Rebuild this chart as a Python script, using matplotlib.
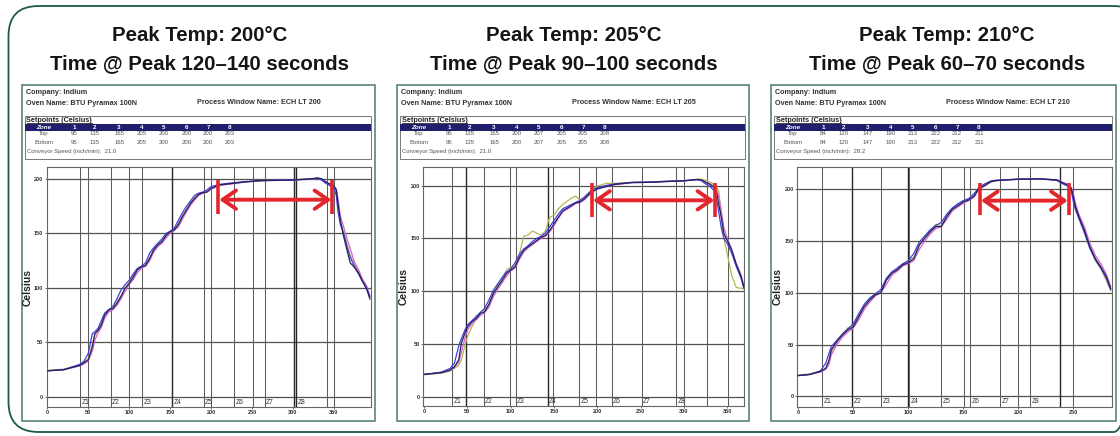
import matplotlib
matplotlib.use("Agg")
import matplotlib.pyplot as plt
from matplotlib import font_manager
from matplotlib.patches import FancyBboxPatch, Rectangle

plt.rcParams["font.family"] = ["Liberation Sans", "DejaVu Sans"]
installed = {f.name for f in font_manager.fontManager.ttflist}
if "Liberation Sans Narrow" in installed:
    TITLE_FONT, TITLE_SIZE = "Liberation Sans Narrow", 17.6
else:
    TITLE_FONT, TITLE_SIZE = "Liberation Sans", 14.7

W, H = 1120, 436

# ---- data ----
title_temp = ["Peak Temp: 200°C", "Peak Temp: 205°C", "Peak Temp: 210°C"]
title_time = ["Time @ Peak 120–140 seconds", "Time @ Peak 90–100 seconds", "Time @ Peak 60–70 seconds"]
window_names = ["ECH LT 200", "ECH LT 205", "ECH LT 210"]
zones = ["1", "2", "3", "4", "5", "6", "7", "8"]
setpoints = [
    [95, 135, 165, 205, 200, 200, 200, 203],
    [95, 135, 165, 200, 207, 205, 205, 208],
    [84, 120, 147, 190, 213, 222, 212, 211],
]
speeds = ["21.0", "21.0", "28.2"]

# panel 1
t1 = [0, 20, 40, 45, 50, 55, 58, 62, 66, 70, 75, 80, 85, 90, 95, 100, 105, 110, 115, 120,
      125, 130, 135, 140, 145, 150, 155, 160, 165, 170, 175, 180, 185, 190, 195, 200, 210, 220, 240, 260,
      280, 300, 320, 330, 335, 340, 345, 350, 353, 355, 358, 362, 366, 370, 375, 380, 385, 390, 394]
navy1 = [24, 25, 29, 31.5, 34, 46, 58, 61, 66, 75, 80, 81, 86, 92, 100, 104, 110, 116.5, 119.6, 120.5,
         127, 135, 139.5, 142.5, 148, 151.7, 153, 158, 165.5, 171.5, 177.7, 182, 186, 187.5, 188, 191.4, 194.5, 195.4, 197.2, 198.5,
         198.8, 199, 200, 201, 200.3, 197.5, 195.4, 193.6, 190, 178, 162, 147, 135, 123, 119, 114, 106, 99, 90]
blue1 = [24, 25, 30, 33, 40, 58, 60, 63, 70, 77, 80, 83, 90, 98, 103, 107, 113, 118, 120, 123,
         132, 137, 141, 145, 150, 152, 155, 162, 169, 175, 180, 185, 187, 188, 190, 193, 195, 196, 197.5, 198.5,
         199, 199.3, 200, 200.5, 199, 196, 194, 192, 185, 170, 158, 150, 138, 128, 120, 113, 106, 100, 92]
magenta1 = [24, 25, 28.5, 30.5, 33, 42, 52, 59, 64, 72, 78, 80, 84, 90, 97, 103, 108, 114, 118, 120,
            125, 133, 138, 141, 146, 150, 153, 156, 163, 170, 176, 181, 185, 187, 188, 190.5, 194, 195, 197, 198.3,
            198.7, 199, 199.8, 200.5, 200, 197, 195, 193, 191, 182, 166, 156, 145, 136, 124, 117, 108, 102, 93]
olive1 = [24.5, 25.5, 29.5, 32, 35, 48, 57, 62, 67, 74, 79, 81, 87, 93, 99, 105, 111, 117, 119, 121,
          128, 135, 140, 143, 148, 151, 154, 159, 166, 172, 178, 183, 186.5, 187.5, 188.5, 191.5, 194.5, 195.5, 197.3, 198.5,
          198.9, 199.1, 200, 200.8, 200, 197.3, 195.2, 193.4, 189, 175, 160, 151, 140, 130, 122, 115, 108, 101, 91]

# panel 2
t2 = [0, 20, 30, 35, 40, 43, 47, 50, 55, 60, 65, 70, 75, 80, 85, 90, 95, 100, 105, 110,
      115, 120, 125, 130, 135, 140, 145, 150, 155, 160, 170, 175, 180, 185, 190, 195, 200, 210, 220, 240,
      260, 280, 300, 315, 320, 325, 330, 335, 338, 340, 343, 346, 350, 355, 360, 363, 366, 369]
navy2 = [21.4, 23, 25.5, 28.6, 35, 50.6, 60, 66, 71, 74, 79, 80.5, 88, 98, 104, 110, 116.7, 120, 123, 132,
         138.7, 142, 145, 148, 151, 152.8, 157.5, 164, 170, 176, 181, 183.6, 184.3, 187.4, 191.5, 194.7, 197, 199, 201, 202.8,
         203, 203.8, 204.4, 205.7, 205.3, 203, 201, 197.8, 192, 182.7, 170, 154.4, 148, 138.7, 126, 120, 113.5, 104]
blue2 = [21.4, 23.5, 27, 32, 48, 55, 63, 68, 72, 76, 80, 84, 92, 101, 107, 113, 118, 121, 127, 135,
         140, 143, 147, 150, 152, 155, 161, 167, 173, 178, 182, 184, 186, 189, 193, 196, 198, 200, 201.5, 203,
         203.3, 204, 204.6, 205.5, 204.5, 201.5, 199, 195, 185, 175, 160, 150, 145, 136, 124, 118, 112, 103]
magenta2 = [21.4, 23, 25, 28, 33, 42, 55, 63, 69, 73, 77, 80, 85, 95, 102, 108, 114, 119, 122, 130,
            137, 141, 144, 147, 150, 152, 156, 162, 169, 175, 180, 183, 184, 186.5, 190.5, 194, 196.5, 198.8, 200.8, 202.6,
            203, 203.7, 204.3, 205.6, 205.4, 203.5, 201.5, 199, 195, 190, 176, 160, 150, 140, 127, 121, 115, 105]
olive2 = [21, 22.5, 24.5, 27, 30, 35, 48, 57, 66, 74, 80, 82, 87, 97, 106, 112, 120, 123, 124, 135,
          152, 153, 157, 155, 153, 157, 170, 172, 178, 182, 188, 190, 186, 189, 193, 197, 199.5, 202, 202, 203,
          203.3, 204, 204.6, 206, 206, 205, 203, 201, 198, 195, 173, 150, 135, 115, 104, 103, 103, 102]

# panel 3
t3 = [0, 10, 20, 25, 28, 30, 35, 40, 45, 50, 55, 60, 65, 70, 75, 80, 85, 90, 95, 100,
      105, 110, 115, 120, 125, 130, 135, 140, 145, 150, 155, 160, 163, 165, 170, 175, 180, 200, 220, 235,
      240, 245, 248, 250, 252, 255, 260, 265, 270, 275, 280, 284]
navy3 = [20, 21, 23.8, 27, 35, 44.8, 52.8, 59, 64, 67, 77, 86.6, 93, 98, 100, 112, 119, 122, 127, 129,
         133, 146, 152.7, 159, 164, 164, 173.6, 180.7, 184, 187.8, 189.7, 193.6, 199, 201, 204, 207.4, 208.4, 209.7, 210, 209,
         206.4, 204, 201, 193, 183, 173.6, 160.7, 144.6, 133, 125, 115.6, 104]
blue3 = [20, 21, 24.5, 32, 42, 48, 54, 60, 65, 70, 80, 89, 95, 99, 103, 114, 120, 124, 128, 131,
         138, 149, 155, 161, 165, 168, 176, 182, 186, 189, 191, 196, 200, 202.5, 205.5, 208, 208.8, 209.8, 210, 208.5,
         205.5, 203, 199, 188, 180, 172, 158, 143, 132, 124, 114, 103]
magenta3 = [20, 21, 23.5, 26, 31, 40, 50, 57, 62, 66, 74, 84, 91, 97, 100, 108, 117, 121, 126, 128,
            131, 142, 150, 157, 162, 164, 171, 179, 183, 186.5, 189, 192.5, 198, 200.5, 203.5, 207, 208.2, 209.6, 210, 209.2,
            207, 204.5, 202, 196, 186, 176, 164, 148, 136, 128, 118, 106]
olive3 = [20.5, 21.5, 24, 27.5, 33, 43, 53, 60, 66, 68, 78, 87, 94, 99, 101, 113, 120, 123, 128, 131,
          134, 147, 154, 160, 166, 165, 174, 181, 185, 189, 191, 195, 200, 202, 204.5, 207.5, 208.5, 209.7, 210, 209,
          206, 203.5, 200.5, 191, 181, 172, 159, 143, 131, 123, 112, 102]

times = [t1, t2, t3]
curves = [[olive1, magenta1, blue1, navy1], [olive2, magenta2, blue2, navy2], [olive3, magenta3, blue3, navy3]]
curve_colors = ["#b5b554", "#d660cf", "#4040e0", "#22225a"]

zone_lines = [
    [40, 49.3, 77.5, 99.9, 116.2, 151.7, 152.9, 190.9, 200.2, 228.4, 251.2, 265.9, 301.8, 303.8, 341.8, 350.7],
    [32.7, 48.5, 68.8, 98.8, 105.8, 142.7, 149.2, 179.2, 198.5, 216.5, 251.2, 290.8, 300, 326.9, 351.2],
    [21.8, 48.5, 75.2, 99.4, 100.9, 129.4, 150.3, 156, 183.3, 200, 210.6, 237.6, 250],
]
dark_lines = [[152.9, 301.8, 303.8], [48.5, 142.7], [48.5, 99.4, 237.6]]
zone_starts = [
    [40, 77.5, 116.2, 152.9, 190.9, 228.4, 265.9, 303.8],
    [32.7, 68.8, 105.8, 142.7, 179.2, 216.5, 251.2, 290.8],
    [21.8, 48.5, 75.2, 100.9, 129.4, 156, 183.3, 210.6],
]
x_ticks = [[0, 50, 100, 150, 200, 250, 300, 350], [0, 50, 100, 150, 200, 250, 300, 350], [0, 50, 100, 150, 200, 250]]
y_ticks = [0, 50, 100, 150, 200]
x_lims = [(-1, 395), (-1.2, 369.2), (-1.2, 284.7)]
y_lims = [(-9.2, 211), (-8.5, 217.5), (-9.9, 221.5)]

# time above liquidus window marked with the red arrow
win_start = [209, 194, 165]
win_end = [348, 336, 246]
win_y = [181, 186, 189]
bar_lo = [168, 170, 175]
bar_hi = [199, 202, 206]

# ---- layout (pixels) ----
panel_l = [22, 397, 771]
panel_r = [375, 749, 1116]
ax_l = [46.5, 423, 797]
ax_r = [370.7, 744, 1111.5]
ax_b = [407, 406, 406.5]
ax_t = 167
title_x = [200, 574, 947]
col_x = [52, 73, 97, 120, 142, 165, 186, 208]

FRAME = "#1f5c44"
BORDER = "#4b7a6b"
NAVY = "#1f1f6e"
RED = "#e3262b"
GRID = "#505050"

fig = plt.figure(figsize=(W / 100, H / 100), dpi=100)
bg = fig.add_axes([0, 0, 1, 1])
bg.set_xlim(0, W)
bg.set_ylim(H, 0)
bg.axis("off")

bg.add_patch(FancyBboxPatch((8.5, 6), 1135, 426, boxstyle="round,pad=0,rounding_size=30",
                            fill=False, ec=FRAME, lw=1.3))

for i in range(3):
    pl, pr = panel_l[i], panel_r[i]
    bg.text(title_x[i], 41, title_temp[i], ha="center", va="baseline", fontsize=TITLE_SIZE,
            fontweight="bold", family=TITLE_FONT, color="#151515")
    bg.text(title_x[i], 69, title_time[i], ha="center", va="baseline", fontsize=TITLE_SIZE,
            fontweight="bold", family=TITLE_FONT, color="#151515")

    bg.add_patch(Rectangle((pl, 85), pr - pl, 336, fill=False, ec=BORDER, lw=1.1))
    bg.text(pl + 4, 93.5, "Company: Indium", fontsize=5.2, fontweight="bold", color="#333333", va="baseline")
    bg.text(pl + 4, 105, "Oven Name: BTU Pyramax 100N", fontsize=5.2, fontweight="bold", color="#333333", va="baseline")
    bg.text(pl + 175, 104, "Process Window Name: " + window_names[i], fontsize=5.2, fontweight="bold",
            color="#333333", va="baseline")

    # setpoints table
    sl, sr = pl + 3, pr - 4
    bg.add_patch(Rectangle((sl, 115.5), sr - sl, 43, fill=False, ec="#777777", lw=0.7))
    bg.text(sl + 1.5, 121.5, "Setpoints (Celsius)", fontsize=5.2, fontweight="bold", color="#222222", va="baseline")
    bg.plot([sl + 1.5, sl + 67], [122.6, 122.6], color="#222222", lw=0.6)
    bg.add_patch(Rectangle((sl, 124), sr - sl, 7, fc=NAVY, ec="none"))
    bg.text(pl + 22, 127.6, "Zone", fontsize=4.5, fontweight="bold", style="italic", color="white",
            ha="center", va="center")
    for j, z in enumerate(zones):
        bg.text(pl + col_x[j], 127.6, z, fontsize=4.5, fontweight="bold", color="white", ha="center", va="center")
        bg.text(pl + col_x[j], 133.5, str(setpoints[i][j]), fontsize=4.3, color="#555555", ha="center", va="center")
        bg.text(pl + col_x[j], 142.5, str(setpoints[i][j]), fontsize=4.3, color="#555555", ha="center", va="center")
    bg.text(pl + 22, 133.5, "Top", fontsize=4.3, color="#555555", ha="center", va="center")
    bg.text(pl + 22, 142.5, "Bottom", fontsize=4.3, color="#555555", ha="center", va="center")
    bg.text(sl + 2, 151.5, "Conveyor Speed (inch/min):  " + speeds[i], fontsize=4.3, color="#555555", va="center")

    # profile plot
    ax = fig.add_axes([ax_l[i] / W, 1 - ax_b[i] / H, (ax_r[i] - ax_l[i]) / W, (ax_b[i] - ax_t) / H])
    ax.set_xlim(*x_lims[i])
    ax.set_ylim(*y_lims[i])
    for yv in y_ticks:
        ax.axhline(yv, color=GRID, lw=0.9, zorder=1)
    for xv in zone_lines[i]:
        dark = xv in dark_lines[i]
        ax.axvline(xv, color="#262626" if dark else "#5c5c5c", lw=1.0 if dark else 0.75, zorder=1)
    for k, zs in enumerate(zone_starts[i]):
        ax.text(zs + 1.5, y_lims[i][0] * 0.55, "Z%d" % (k + 1), fontsize=4.8, color="#333333",
                ha="left", va="center", zorder=2)

    for ys, c in zip(curves[i], curve_colors):
        ax.plot(times[i], ys, color=c, lw=0.9, zorder=3)

    ax.plot([win_start[i], win_start[i]], [bar_lo[i], bar_hi[i]], color=RED, lw=2.6, zorder=5,
            solid_capstyle="butt")
    ax.plot([win_end[i], win_end[i]], [bar_lo[i], bar_hi[i]], color=RED, lw=2.6, zorder=5,
            solid_capstyle="butt")
    ax.annotate("", xy=(win_end[i] - 1, win_y[i]), xytext=(win_start[i] + 1, win_y[i]),
                arrowprops=dict(arrowstyle="<->,head_length=0.8,head_width=0.55", color=RED, lw=2.8,
                                shrinkA=0, shrinkB=0, mutation_scale=12), zorder=5)

    ax.set_xticks(x_ticks[i])
    ax.set_yticks(y_ticks)
    ax.tick_params(length=1.5, width=0.5, labelsize=4.0, pad=0.8, colors="#333333")
    for lab in ax.get_xticklabels() + ax.get_yticklabels():
        lab.set_fontweight("bold")
    for sp in ax.spines.values():
        sp.set_color("#666666")
        sp.set_linewidth(0.8)
    ax.set_ylabel("Celsius", fontsize=7.5, fontweight="bold", color="#222222")
    ax.yaxis.set_label_coords(-14 / (ax_r[i] - ax_l[i]), 0.5)

fig.savefig("out.png", dpi=100)
